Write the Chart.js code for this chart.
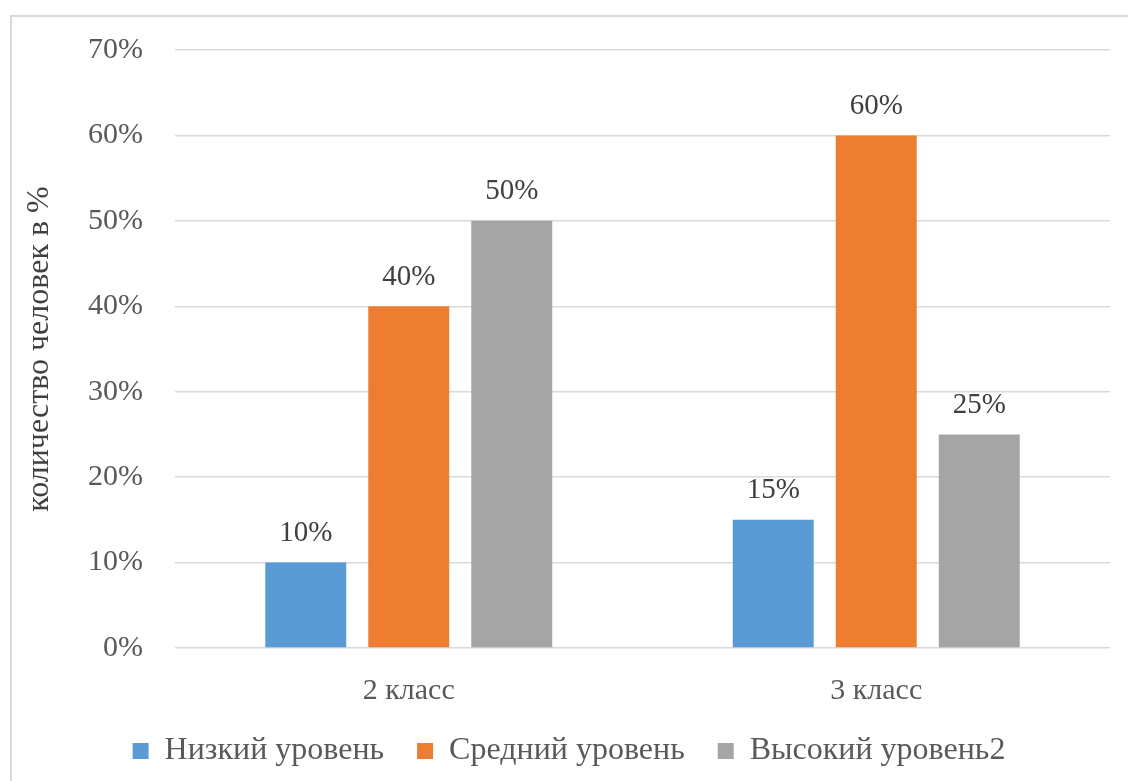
<!DOCTYPE html>
<html lang="ru">
<head>
<meta charset="utf-8">
<script src="https://cdn.jsdelivr.net/npm/chart.js@4"></script>
<style>
  html, body { margin: 0; padding: 0; background: #fff; overflow: hidden; }
  #frame { position: absolute; left: 10px; top: 15px; width: 1140px; height: 800px;
           border: 2px solid #d9d9d9; box-sizing: border-box; }
  #wrap { position: absolute; left: 0; top: 0; width: 1128px; height: 781px; }
</style>
</head>
<body>
<div id="frame"></div>
<div id="wrap"><canvas id="chart"></canvas></div>
<script>
// ---- данные ----
const categories = ["2 класс", "3 класс"];
const seriesNames = ["Низкий уровень", "Средний уровень", "Высокий уровень2"];
const lowValues = [10, 15];
const midValues = [40, 60];
const highValues = [50, 25];
const yTicks = [0, 10, 20, 30, 40, 50, 60, 70];

const FONT = '"Liberation Serif", "Times New Roman", serif';
const colors = ["#5B9BD5", "#ED7D31", "#A5A5A5"];

// подписи значений над столбцами
const valueLabels = {
  id: "valueLabels",
  afterDatasetsDraw(chart) {
    const ctx = chart.ctx;
    ctx.save();
    ctx.font = "29px " + FONT;
    ctx.fillStyle = "#404040";
    ctx.textAlign = "center";
    ctx.textBaseline = "middle";
    chart.data.datasets.forEach((ds, i) => {
      chart.getDatasetMeta(i).data.forEach((bar, j) => {
        ctx.fillText(ds.data[j] + "%", bar.x, bar.y - 29);
      });
    });
    ctx.restore();
  }
};

const values = [lowValues, midValues, highValues];

new Chart(document.getElementById("chart"), {
  type: "bar",
  data: {
    labels: categories,
    datasets: seriesNames.map((name, i) => ({
      label: name,
      data: values[i],
      backgroundColor: colors[i],
      categoryPercentage: 0.661,
      barPercentage: 0.786
    }))
  },
  options: {
    responsive: true,
    maintainAspectRatio: false,
    animation: false,
    layout: { padding: { left: 10, right: 0, top: 40, bottom: 4 } },
    plugins: {
      legend: {
        position: "bottom",
        labels: {
          font: { family: FONT, size: 32 },
          color: "#595959",
          boxWidth: 16,
          boxHeight: 16,
          padding: 33
        }
      },
      tooltip: { enabled: false }
    },
    scales: {
      x: {
        grid: { display: false },
        border: { display: false },
        ticks: { font: { family: FONT, size: 30 }, color: "#595959", padding: 17 },
        afterFit(s) { s.height = 54; }
      },
      y: {
        min: 0,
        max: 70,
        afterBuildTicks(s) { s.ticks = yTicks.map(v => ({ value: v })); },
        grid: { color: "#d9d9d9", lineWidth: 1.5, drawTicks: false },
        border: { display: false },
        ticks: {
          font: { family: FONT, size: 30 },
          color: "#595959",
          padding: 32,
          callback: v => v + "%"
        },
        title: {
          display: true,
          text: "количество человек в %",
          font: { family: FONT, size: 32 },
          color: "#404040",
          padding: { top: 10, bottom: 0 }
        },
        afterFit(s) { s.width = 165; }
      },
      yRight: {
        position: "right",
        display: true,
        grid: { display: false },
        border: { display: false },
        ticks: { display: false },
        afterFit(s) { s.width = 18; }
      }
    }
  },
  plugins: [valueLabels]
});
</script>
</body>
</html>
